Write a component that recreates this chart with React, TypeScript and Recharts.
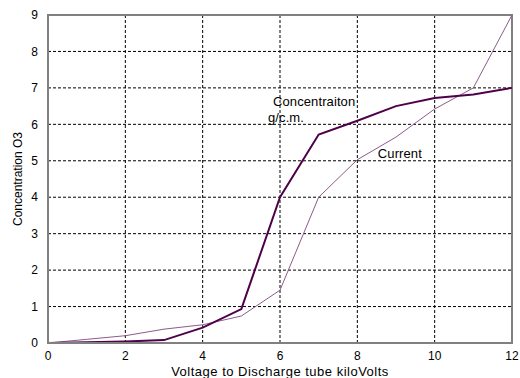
import { LineChart, Line, XAxis, YAxis, CartesianGrid, ReferenceArea, ReferenceDot, Label } from "recharts";

const voltage = [0, 1, 2, 3, 4, 5, 6, 7, 8, 9, 10, 11, 12];
const concentration = [0, 0.02, 0.04, 0.08, 0.42, 0.93, 4.0, 5.72, 6.1, 6.5, 6.72, 6.82, 7.0];
const current = [0, 0.1, 0.2, 0.38, 0.5, 0.74, 1.45, 4.0, 5.03, 5.65, 6.42, 7.0, 9.0];
const xTicks = [0, 2, 4, 6, 8, 10, 12];
const yTicks = [0, 1, 2, 3, 4, 5, 6, 7, 8, 9];

const data = voltage.map((v, i) => ({ v, conc: concentration[i], cur: current[i] }));

const FONT = "'Liberation Sans', Arial, sans-serif";

// plain text notes placed at data coordinates
const Note = ({ viewBox, lines }: any) => {
    if (!viewBox) return null;
    const x = viewBox.x + (viewBox.width || 0) / 2;
    const y = viewBox.y + (viewBox.height || 0) / 2;
    return (
        <text x={x} y={y} fontSize={13} fontFamily={FONT} fill="#000" dominantBaseline="middle" letterSpacing={0.1}>
            {lines}
        </text>
    );
};

export default function App() {
    return (
        <div style={{ position: "absolute", left: 0, top: 0, width: 520, height: 378, background: "#fff" }}>
            <LineChart width={520} height={378} data={data} margin={{ top: 15, right: 8, left: 0, bottom: 0 }}>
                <CartesianGrid stroke="#000" strokeDasharray="3 2" strokeWidth={1} />
                <XAxis
                    dataKey="v"
                    type="number"
                    domain={[0, 12]}
                    ticks={xTicks}
                    height={35}
                    axisLine={{ stroke: "#808080", strokeWidth: 2 }}
                    tickLine={false}
                    tick={{ fill: "#000", fontSize: 12, fontFamily: FONT }}
                    tickMargin={2}
                >
                    <Label value="Voltage to Discharge tube kiloVolts" position="insideBottom" offset={2} fill="#000" fontSize={13} fontFamily={FONT} letterSpacing={0.5} />
                </XAxis>
                <YAxis
                    type="number"
                    domain={[0, 9]}
                    ticks={yTicks}
                    width={48}
                    axisLine={{ stroke: "#808080", strokeWidth: 2 }}
                    tickLine={false}
                    tick={{ fill: "#000", fontSize: 12, fontFamily: FONT }}
                    tickMargin={4}
                >
                    <Label value="Concentration O3" angle={-90} position="insideLeft" offset={18} style={{ textAnchor: "middle" }} fill="#000" fontSize={12} fontFamily={FONT} />
                </YAxis>
                <ReferenceArea x1={0} x2={12} y1={0} y2={9} fill="none" stroke="#808080" strokeWidth={2} />
                <Line type="linear" dataKey="cur" stroke="#8c5c8a" strokeWidth={1} dot={false} isAnimationActive={false} />
                <Line type="linear" dataKey="conc" stroke="#4e0049" strokeWidth={2} dot={false} isAnimationActive={false} />
                <ReferenceDot x={5.82} y={6.59} r={0} label={<Note lines="Concentraiton" />} />
                <ReferenceDot x={5.69} y={6.17} r={0} label={<Note lines="g/c.m." />} />
                <ReferenceDot x={8.53} y={5.16} r={0} label={<Note lines="Current" />} />
            </LineChart>
        </div>
    );
}
